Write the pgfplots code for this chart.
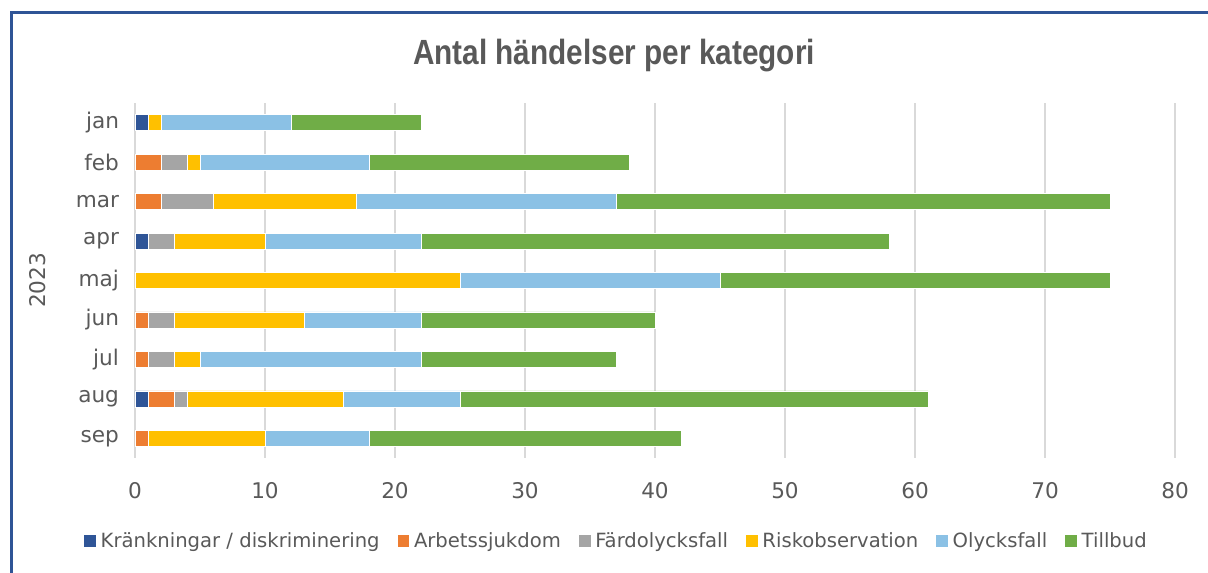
\documentclass[border=0pt]{standalone}
\usepackage{fontspec}
\setmainfont{DejaVu Sans}
\newfontfamily\titlefont[FakeStretch=0.85]{Liberation Sans}
\usepackage{pgfplots}
\pgfplotsset{compat=1.18}
\definecolor{cK}{HTML}{2F5597}
\definecolor{cA}{HTML}{ED7D31}
\definecolor{cF}{HTML}{A5A5A5}
\definecolor{cR}{HTML}{FFC000}
\definecolor{cO}{HTML}{8BC1E5}
\definecolor{cT}{HTML}{70AD47}
\definecolor{txt}{HTML}{595959}
\definecolor{frame}{HTML}{2F5496}
\begin{document}
\begin{tikzpicture}[x=1pt,y=1pt]
\useasboundingbox (-67.5,-57) rectangle (536.5,229);
\draw[frame, line width=1.6pt] (-61.75,-70) -- (-61.75,222.75) -- (560,222.75);
\begin{axis}[
  at={(0,0)}, anchor=south west,
  scale only axis, width=520pt, height=177.5pt,
  xbar stacked, bar width=8pt,
  xmin=0, xmax=80, ymin=-0.5, ymax=8.5, y dir=reverse,
  xtick={0,10,...,80},
  ytick={0,...,8},
  yticklabels={jan,feb,mar,apr,maj,jun,jul,aug,sep},
  axis line style={draw=none},
  major tick length=0pt,
  xmajorgrids, grid style={draw=black!15, line width=0.75pt},
  ticklabel style={font=\fontsize{10.8}{12}\selectfont, text=txt},
  /pgf/number format/assume math mode=true,
  xticklabel style={yshift=-8.5pt},
  yticklabel style={xshift=-4.5pt},
  ylabel={2023},
  every axis y label/.style={at={(rel axis cs:0,0.5)}, xshift=-48.5pt, anchor=center, rotate=90, font=\fontsize{10.8}{12}\selectfont, text=txt},
  legend style={at={(0.4635,-0.234)}, anchor=center, draw=none, font=\fontsize{9.8}{11}\selectfont, text=txt, legend columns=-1, /tikz/every even column/.append style={column sep=6.5pt}},
  legend image code/.code={\fill[#1] (0pt,-3.2pt) rectangle (6.4pt,3.2pt);},
  every axis plot/.append style={draw=white, line width=0.3pt},
]
\addplot[fill=cK] coordinates {(1,0) (0,1) (0,2) (1,3) (0,4) (0,5) (0,6) (1,7) (0,8)};
\addplot[fill=cA] coordinates {(0,0) (2,1) (2,2) (0,3) (0,4) (1,5) (1,6) (2,7) (1,8)};
\addplot[fill=cF] coordinates {(0,0) (2,1) (4,2) (2,3) (0,4) (2,5) (2,6) (1,7) (0,8)};
\addplot[fill=cR] coordinates {(1,0) (1,1) (11,2) (7,3) (25,4) (10,5) (2,6) (12,7) (9,8)};
\addplot[fill=cO] coordinates {(10,0) (13,1) (20,2) (12,3) (20,4) (9,5) (17,6) (9,7) (8,8)};
\addplot[fill=cT] coordinates {(10,0) (20,1) (38,2) (36,3) (30,4) (18,5) (15,6) (36,7) (24,8)};
\legend{Kränkningar / diskriminering, Arbetssjukdom, Färdolycksfall, Riskobservation, Olycksfall, Tillbud}
\end{axis}
\node[font=\titlefont\bfseries\fontsize{17.5}{20}\selectfont, text=txt] at (239.5,201) {Antal händelser per kategori};
\end{tikzpicture}
\end{document}
